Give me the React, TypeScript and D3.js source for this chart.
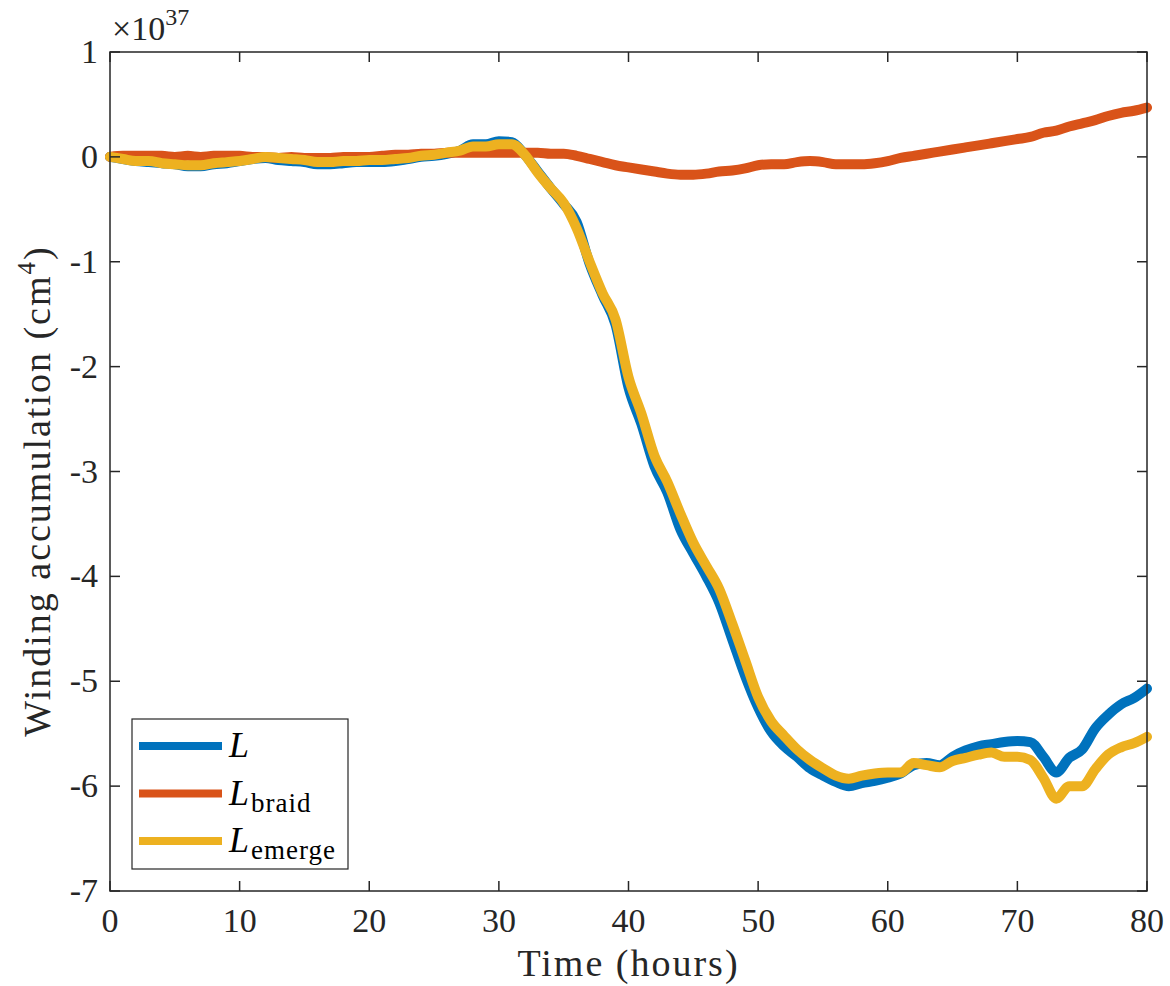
import React from 'react';
import * as d3 from 'd3';

// time in hours, values in units of 1e37 cm^4
const hours = d3.range(0, 81);

const windingL = [
	0.0, -0.02, -0.04, -0.05, -0.06, -0.07, -0.09, -0.09, -0.07, -0.06,
	-0.04, -0.02, -0.01, -0.03, -0.04, -0.05, -0.07, -0.07, -0.06, -0.05,
	-0.05, -0.05, -0.04, -0.02, 0.0, 0.01, 0.03, 0.06, 0.12, 0.12,
	0.15, 0.14, 0.02, -0.14, -0.3, -0.45, -0.62, -1.02, -1.32, -1.6,
	-2.2, -2.55, -2.95, -3.2, -3.55, -3.78, -4.0, -4.25, -4.6, -4.95,
	-5.25, -5.48, -5.62, -5.72, -5.83, -5.9, -5.96, -6.0, -5.97, -5.95,
	-5.92, -5.88, -5.8, -5.78, -5.8, -5.72, -5.66, -5.62, -5.6, -5.58,
	-5.57, -5.58, -5.72, -5.87, -5.73, -5.65, -5.45, -5.32, -5.22, -5.16,
	-5.07,
];

const windingBraid = [
	0.0, 0.01, 0.01, 0.01, 0.01, 0.0, 0.01, 0.0, 0.01, 0.01,
	0.01, 0.0, 0.0, -0.01, 0.0, -0.01, -0.01, -0.01, 0.0, 0.0,
	0.0, 0.01, 0.02, 0.02, 0.03, 0.03, 0.04, 0.04, 0.04, 0.04,
	0.04, 0.04, 0.04, 0.04, 0.03, 0.03, 0.01, -0.02, -0.05, -0.08,
	-0.1, -0.12, -0.14, -0.16, -0.17, -0.17, -0.16, -0.14, -0.13, -0.11,
	-0.08, -0.07, -0.07, -0.05, -0.04, -0.05, -0.07, -0.07, -0.07, -0.06,
	-0.04, -0.01, 0.01, 0.03, 0.05, 0.07, 0.09, 0.11, 0.13, 0.15,
	0.17, 0.19, 0.23, 0.25, 0.29, 0.32, 0.35, 0.39, 0.42, 0.44,
	0.47,
];

const windingEmerge = [
	0.0, -0.02, -0.04, -0.04, -0.06, -0.07, -0.08, -0.08, -0.06, -0.05,
	-0.04, -0.02, 0.0, -0.01, -0.02, -0.03, -0.05, -0.05, -0.04, -0.04,
	-0.03, -0.03, -0.02, -0.01, 0.01, 0.02, 0.04, 0.06, 0.1, 0.1,
	0.12, 0.12, 0.02, -0.15, -0.3, -0.44, -0.68, -1.0, -1.3, -1.55,
	-2.1, -2.45, -2.85, -3.1, -3.4, -3.68, -3.9, -4.12, -4.45, -4.8,
	-5.15, -5.38, -5.52, -5.65, -5.75, -5.83, -5.9, -5.93, -5.9, -5.88,
	-5.87, -5.87, -5.78, -5.8, -5.82, -5.76, -5.73, -5.7, -5.68, -5.72,
	-5.72, -5.75, -5.92, -6.12, -6.0, -6.0, -5.84, -5.7, -5.63, -5.59,
	-5.53,
];

const xTicks = [0, 10, 20, 30, 40, 50, 60, 70, 80];
const yTicks = [1, 0, -1, -2, -3, -4, -5, -6, -7];

const series = [
	{ name: 'L', sub: '', color: '#0072BD', values: windingL },
	{ name: 'L', sub: 'braid', color: '#D95319', values: windingBraid },
	{ name: 'L', sub: 'emerge', color: '#EDB120', values: windingEmerge },
];

const width = 1170;
const height = 986;
const margin = { left: 110, right: 23, top: 52, bottom: 95 };
const axisColor = '#262626';
const font = '"Liberation Serif", "DejaVu Serif", serif';

export default function App() {
	const x = d3
		.scaleLinear()
		.domain([0, 80])
		.range([margin.left, width - margin.right]);
	const y = d3
		.scaleLinear()
		.domain([-7, 1])
		.range([height - margin.bottom, margin.top]);

	const makeLine = (vals: number[]) =>
		d3
			.line<number>()
			.x((d, i) => x(hours[i]))
			.y(d => y(d))
			.curve(d3.curveMonotoneX)(vals);

	const x0 = x(0);
	const x1 = x(80);
	const yTop = y(1);
	const yBot = y(-7);
	const tick = 10;

	const legend = { x: 132, y: 719, w: 216, h: 150 };

	return (
		<svg
			width={width}
			height={height}
			style={{ position: 'absolute', left: 0, top: 0, background: '#fff' }}
			fontFamily={font}
		>
			<rect width={width} height={height} fill="#fff" />
			<g>
				{series.map((s, i) => (
					<path
						key={i}
						d={makeLine(s.values) || ''}
						fill="none"
						stroke={s.color}
						strokeWidth={10}
						strokeLinejoin="round"
						strokeLinecap="round"
					/>
				))}
			</g>

			{/* axes box + ticks */}
			<rect x={x0} y={yTop} width={x1 - x0} height={yBot - yTop} fill="none" stroke={axisColor} strokeWidth={1.5} />
			{xTicks.map(t => (
				<g key={'x' + t}>
					<line x1={x(t)} x2={x(t)} y1={yBot} y2={yBot - tick} stroke={axisColor} strokeWidth={1.5} />
					<line x1={x(t)} x2={x(t)} y1={yTop} y2={yTop + tick} stroke={axisColor} strokeWidth={1.5} />
					<text x={x(t)} y={yBot + 41} textAnchor="middle" fontSize={34} fill={axisColor}>
						{t}
					</text>
				</g>
			))}
			{yTicks.map(t => (
				<g key={'y' + t}>
					<line x1={x0} x2={x0 + tick} y1={y(t)} y2={y(t)} stroke={axisColor} strokeWidth={1.5} />
					<line x1={x1} x2={x1 - tick} y1={y(t)} y2={y(t)} stroke={axisColor} strokeWidth={1.5} />
					<text x={x0 - 12} y={y(t) + 11} textAnchor="end" fontSize={34} fill={axisColor}>
						{t}
					</text>
				</g>
			))}

			{/* exponent */}
			<text x={x0 + 2} y={40} fontSize={34} fill={axisColor}>
				×10
				<tspan fontSize={24} dy={-15}>
					37
				</tspan>
			</text>

			{/* axis labels */}
			<text x={(x0 + x1) / 2} y={976} textAnchor="middle" fontSize={38} letterSpacing={2} fill={axisColor}>
				Time (hours)
			</text>
			<text
				transform="translate(50, 491) rotate(-90)"
				textAnchor="middle"
				fontSize={38}
				letterSpacing={2}
				fill={axisColor}
			>
				Winding accumulation (cm
				<tspan fontSize={25} dy={-15}>
					4
				</tspan>
				<tspan dy={15}>)</tspan>
			</text>

			{/* legend */}
			<rect x={legend.x} y={legend.y} width={legend.w} height={legend.h} fill="#fff" stroke={axisColor} strokeWidth={1.2} />
			{series.map((s, i) => {
				const ly = legend.y + 27 + i * 47.5;
				return (
					<g key={'leg' + i}>
						<line x1={139} x2={222} y1={ly} y2={ly} stroke={s.color} strokeWidth={8} />
						<text x={229} y={ly + 11} fontSize={36} fontStyle="italic" fill="#000">
							{s.name}
							{s.sub && (
								<tspan fontSize={27} fontStyle="normal" letterSpacing={1} dx={2} dy={7}>
									{s.sub}
								</tspan>
							)}
						</text>
					</g>
				);
			})}
		</svg>
	);
}
